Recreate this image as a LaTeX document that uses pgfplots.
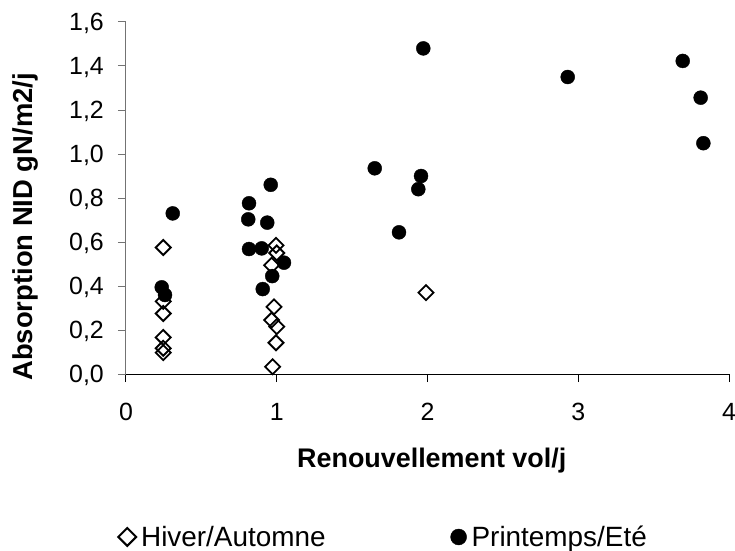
\documentclass[border=0pt]{standalone}
\usepackage{graphicx}
\usepackage{fontspec}
\setmainfont{Liberation Sans}
\usepackage{pgfplots}
\pgfplotsset{compat=1.18}
\begin{document}
\begin{tikzpicture}
\begin{axis}[
  scale only axis,
  width=603bp, height=352bp,
  xmin=0, xmax=4, ymin=0, ymax=1.6,
  xtick={0,1,2,3,4},
  ytick={0,0.2,0.4,0.6,0.8,1.0,1.2,1.4,1.6},
  axis x line*=bottom, axis y line*=left,
  x axis line style={black, line width=1bp},
  y axis line style={black!55, line width=1bp},
  xtick style={black, line width=1bp},
  ytick style={black!55, line width=1bp},
  tick align=outside, major tick length=8bp,
  /pgf/number format/assume math mode=true,
  yticklabel style={font=\fontsize{25}{30}\selectfont, anchor=base east, inner sep=0pt, xshift=-14bp, yshift=-8.9bp,
     /pgf/number format/.cd, fixed, fixed zerofill, precision=1, use comma},
  xticklabel style={font=\fontsize{25}{30}\selectfont, anchor=north, inner sep=0pt, yshift=-21bp,
     /pgf/number format/.cd, fixed, precision=0},
  xlabel={\fontsize{27}{32}\selectfont\bfseries Renouvellement vol/j},
  ylabel={\fontsize{27.5}{32}\selectfont\bfseries Absorption NID gN/m2/j},
  every axis x label/.style={at={(axis description cs:0.507,-0.267)}, anchor=base},
  every axis y label/.style={at={(axis description cs:-0.166,0.418)}, rotate=90, anchor=center},
  legend columns=2,
  legend style={draw=none, fill=none, at={(axis description cs:-0.018,-0.463)}, anchor=west,
    font=\fontsize{28}{33}\selectfont,
    /tikz/every odd column/.append style={column sep=3bp},
    /tikz/every even column/.append style={column sep=123bp}},
]
\addlegendimage{only marks, mark=square, mark size=6.3bp, mark options={rotate=45, draw=black, fill=white, line width=2bp}}
\addlegendentry{Hiver/Automne}
\addlegendimage{only marks, mark=*, mark size=8bp, mark options={draw=black, fill=black}}
\addlegendentry{Printemps/Eté}
% Printemps/Ete
\addplot[forget plot, only marks, mark=*, mark size=7bp, mark options={draw=black, fill=black}] coordinates {
(0.31,0.730) (0.237,0.394) (0.259,0.359)
(0.96,0.860) (0.816,0.776) (0.811,0.703) (0.937,0.688) (0.816,0.568) (0.90,0.571) (1.048,0.506) (0.97,0.445) (0.907,0.386)
(1.65,0.935) (1.972,1.480) (1.957,0.900) (1.939,0.840) (1.811,0.644)
(2.93,1.350) (3.693,1.423) (3.812,1.256) (3.83,1.049)
};
% Hiver/Automne
\addplot[forget plot, only marks, mark=square, mark size=5.3bp, mark options={rotate=45, draw=black, fill=white, line width=1.8bp}] coordinates {
(0.247,0.575) (0.247,0.33) (0.247,0.275) (0.247,0.166) (0.247,0.117) (0.247,0.097)
(0.995,0.585) (1.0,0.55) (0.966,0.494) (0.982,0.305) (0.966,0.245) (1.0,0.215) (0.995,0.142) (0.973,0.033)
(1.99,0.37)
};
\end{axis}
\pgfresetboundingbox
\path ([xshift=-126bp,yshift=-177bp]current axis.south west) rectangle ([xshift=6bp,yshift=22bp]current axis.north east);
\end{tikzpicture}
\end{document}
